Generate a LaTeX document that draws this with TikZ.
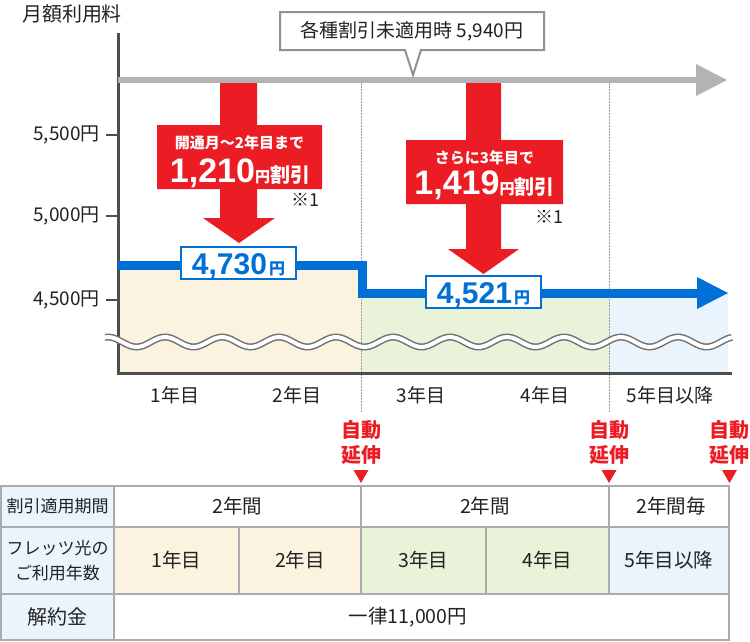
\documentclass[tikz,border=0pt]{standalone}
\usepackage{fontspec}
\setmainfont{Noto Sans CJK JP}
\newfontfamily\numfont{Liberation Sans}
\usetikzlibrary{positioning}

\definecolor{discred}{HTML}{EC1C24}
\definecolor{priceblue}{HTML}{0070D6}
\definecolor{basegray}{HTML}{B3B3B3}
\definecolor{axisgray}{HTML}{4D4D4D}
\definecolor{gridgray}{HTML}{ABABAB}
\definecolor{dotgray}{HTML}{9A9A9A}
\definecolor{yearbeige}{HTML}{FBF3E0}
\definecolor{yeargreen}{HTML}{E9F3DA}
\definecolor{yearblue}{HTML}{EAF4FD}
\definecolor{textgray}{HTML}{222222}

\begin{document}
\begin{tikzpicture}[
  x=1pt, y=-1pt,
  ticklabel/.style={anchor=east, inner sep=0pt, text=textgray, font=\fontsize{19}{19}\selectfont},
  yearlabel/.style={inner sep=0pt, text=textgray, font=\fontsize{19}{19}\selectfont},
  pricebox/.style={draw=priceblue, line width=2pt, fill=white, text=priceblue,
    minimum width=115pt, minimum height=32pt, inner sep=0pt},
  disctop/.style={inner sep=0pt, text=white, font=\fontsize{15}{15}\selectfont\bfseries},
  discamt/.style={anchor=base, inner sep=0pt, text=white},
  note/.style={inner sep=0pt, text=textgray, font=\fontsize{18}{18}\selectfont},
  autoext/.style={inner sep=0pt, align=center, text=discred, font=\fontsize{20}{25}\selectfont\bfseries},
  cell/.style={inner sep=0pt, align=center, text=textgray, font=\fontsize{19.5}{19.5}\selectfont},
  headcell/.style={cell, font=\fontsize{17}{25}\selectfont},
]
  \useasboundingbox (0,0) rectangle (750,641);

  % year areas
  \fill[yearbeige] (118,265) rectangle (361,373);
  \fill[yeargreen] (361,293) rectangle (609,373);
  \fill[yearblue] (609,293) rectangle (728,373);
  \draw[dotgray, line width=1pt, dash pattern=on 1.5pt off 1.5pt] (361,83) -- (361,412);
  \draw[dotgray, line width=1pt, dash pattern=on 1.5pt off 1.5pt] (609,83) -- (609,412);

  % axes and ticks
  \draw[axisgray, line width=3pt] (118,33) -- (118,373) -- (732,373);
  \foreach \yy/\lab/\nm in {135/{5,500円}/a, 216/{5,000円}/b, 300/{4,500円}/c} {
    \draw[axisgray, line width=2pt] (106,\yy) -- (117,\yy);
    \node[ticklabel] (tick\nm) at (100,\yy) {\lab};
  }
  \node[inner sep=0pt, text=textgray, font=\fontsize{20}{20}\selectfont] (ylabel) at (72,14) {月額利用料};

  % axis break
  \draw[axisgray!80, line width=7pt] plot[domain=105:732, samples=160] (\x, {342-5*cos((\x-108)*6.316)});
  \draw[white, line width=4pt] plot[domain=104:733, samples=160] (\x, {342-5*cos((\x-108)*6.316)});

  % regular price
  \draw[basegray, line width=6pt] (118,80) -- (697,80);
  \fill[basegray] (696,64) -- (727,80) -- (696,96) -- cycle;
  \draw[gridgray!85!black, line width=2pt, fill=white]
    (280,12) -- (544,12) -- (544,50) -- (421,50) -- (413,75) -- (405,50) -- (280,50) -- cycle;
  \node[inner sep=0pt, text=textgray, font=\fontsize{19}{19}\selectfont] (regular) at (412,31) {各種割引未適用時 5,940円};

  % discounted price
  \draw[priceblue, line width=9pt, line join=miter] (118,265) -- (362,265) -- (362,293) -- (698,293);
  \fill[priceblue] (697,277) -- (728,293) -- (697,309) -- cycle;

  % discount arrows
  \fill[discred] (220,83) -- (257,83) -- (257,125) -- (322,125) -- (322,189) -- (257,189)
    -- (257,218) -- (275,218) -- (239,243) -- (203,218) -- (220,218) -- (220,189)
    -- (157,189) -- (157,125) -- (220,125) -- cycle;
  \fill[discred] (466,83) -- (501,83) -- (501,140) -- (563,140) -- (563,204) -- (501,204)
    -- (501,249) -- (519,249) -- (483.5,274) -- (448,249) -- (466,249) -- (466,204)
    -- (406,204) -- (406,140) -- (466,140) -- cycle;
  \node[disctop] (firsttop) at (239.5,143) {開通月～2年目まで};
  \node[discamt] (firstamt) at (240,182) {{\numfont\bfseries\fontsize{34}{34}\selectfont 1,210}{\bfseries\fontsize{15}{15}\selectfont 円}{\bfseries\fontsize{20}{20}\selectfont 割引}};
  \node[note] (firstnote) at (305.5,200) {※1};
  \node[disctop] (secondtop) at (484.5,158) {さらに3年目で};
  \node[discamt] (secondamt) at (484.5,194) {{\numfont\bfseries\fontsize{34}{34}\selectfont 1,419}{\bfseries\fontsize{15}{15}\selectfont 円}{\bfseries\fontsize{20}{20}\selectfont 割引}};
  \node[note] (secondnote) at (549.5,217) {※1};

  \node[pricebox] (firstprice) at (238.5,263) {};
  \node[anchor=base, inner sep=0pt, text=priceblue] (firstval) at (238.5,274) {{\numfont\bfseries\fontsize{30}{30}\selectfont 4,730}\hspace{2pt}{\bfseries\fontsize{16}{16}\selectfont 円}};
  \node[pricebox] (secondprice) at (483.5,292) {};
  \node[anchor=base, inner sep=0pt, text=priceblue] (secondval) at (483.5,303) {{\numfont\bfseries\fontsize{30}{30}\selectfont 4,521}\hspace{2pt}{\bfseries\fontsize{16}{16}\selectfont 円}};

  % years
  \node[yearlabel] (yearone) at (175,395) {1年目};
  \node[yearlabel] (yeartwo) at (297,395) {2年目};
  \node[yearlabel] (yearthree) at (421,395) {3年目};
  \node[yearlabel] (yearfour) at (545,395) {4年目};
  \node[yearlabel] (yearfive) at (670,395) {5年目以降};

  % automatic renewal
  \foreach \xx/\nm in {361/a, 609/b, 729.5/c} {
    \node[autoext] (renew\nm) at (\xx,442.5) {自動\\延伸};
    \fill[discred] (\xx-7.5,470) -- (\xx+7.5,470) -- (\xx,483) -- cycle;
  }

  % table
  \fill[yearblue] (1,486) rectangle (114,640);
  \fill[yearbeige] (114,527) rectangle (361,594);
  \fill[yeargreen] (361,527) rectangle (609,594);
  \fill[yearblue] (609,527) rectangle (729,594);
  \draw[gridgray, line width=2pt] (1,486) rectangle (729,640);
  \draw[gridgray, line width=2pt] (1,527) -- (729,527) (1,594) -- (729,594);
  \draw[gridgray, line width=2pt] (114,486) -- (114,640) (361,486) -- (361,594)
    (609,486) -- (609,594) (239,527) -- (239,594) (486,527) -- (486,594);

  \node[headcell] (hperiod) at (57.5,506.5) {割引適用期間};
  \node[headcell] (hyears) at (57.5,560.5) {フレッツ光の\\ご利用年数};
  \node[cell, font=\fontsize{20}{20}\selectfont] (hfee) at (57.5,617) {解約金};
  \node[cell] (periodone) at (237.5,506.5) {2年間};
  \node[cell] (periodtwo) at (485,506.5) {2年間};
  \node[cell] (periodeach) at (671,506.5) {2年間毎};
  \node[cell] (cellone) at (176.5,560.5) {1年目};
  \node[cell] (celltwo) at (300,560.5) {2年目};
  \node[cell] (cellthree) at (423.5,560.5) {3年目};
  \node[cell] (cellfour) at (547.5,560.5) {4年目};
  \node[cell] (cellfive) at (669,560.5) {5年目以降};
  \node[cell] (fee) at (408,617) {一律11,000円};
\end{tikzpicture}
\end{document}
